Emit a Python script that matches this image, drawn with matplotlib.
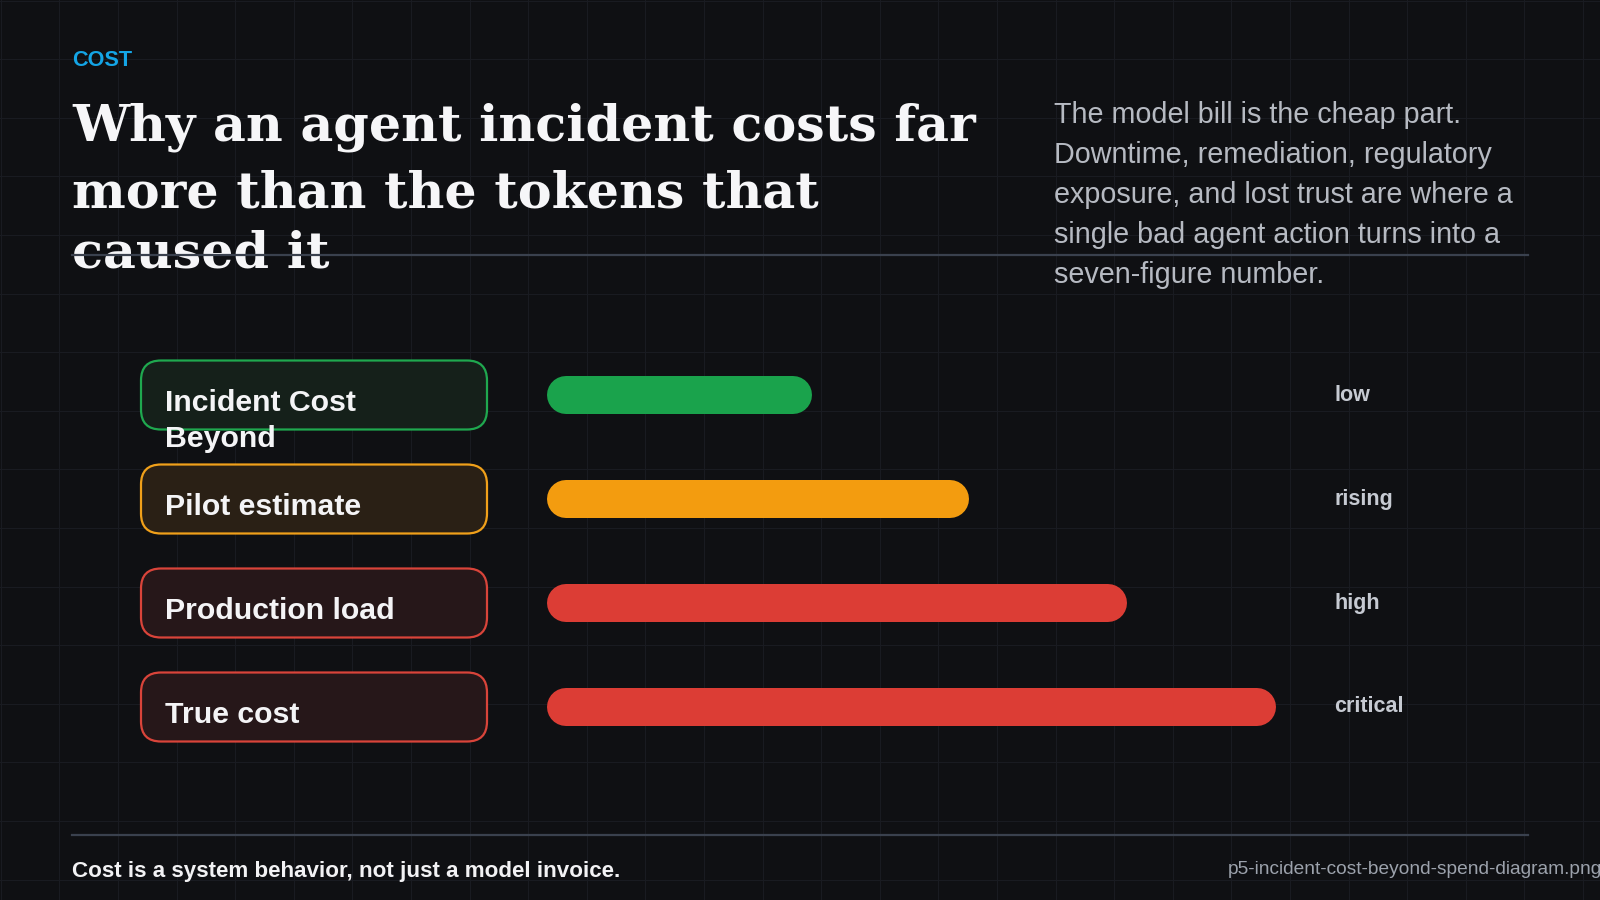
import numpy as np
import matplotlib
matplotlib.use("Agg")
import matplotlib.pyplot as plt
from matplotlib.patches import FancyBboxPatch

plt.rcParams['font.family'] = ['Liberation Sans', 'DejaVu Sans']

# data
label_lines = [["Incident Cost", "Beyond"], ["Pilot estimate"], ["Production load"], ["True cost"]]
values = [36.3, 57.9, 79.5, 100.0]
levels = ["low", "rising", "high", "critical"]
bar_colors = ["#1aa34c", "#f39c0f", "#dc3d35", "#dc3d35"]
box_edges = ["#1fa84f", "#f0a01a", "#d9443a", "#d9443a"]
box_fills = ["#15201a", "#2a2015", "#261719", "#261719"]

title_lines = ["Why an agent incident costs far", "more than the tokens that", "caused it"]
sub_lines = ["The model bill is the cheap part.",
             "Downtime, remediation, regulatory",
             "exposure, and lost trust are where a",
             "single bad agent action turns into a",
             "seven-figure number."]
kicker = "COST"
footer = "Cost is a system behavior, not just a model invoice."
fname = "p5-incident-cost-beyond-spend-diagram.png"

W, H = 1600, 900
fig = plt.figure(figsize=(16, 9), dpi=100)
fig.patch.set_facecolor('#0f1013')

bg = fig.add_axes([0, 0, 1, 1])
bg.set_xlim(0, W)
bg.set_ylim(H, 0)
bg.axis('off')

# faint background grid
for g in np.arange(0.7, W, 58.6):
    bg.axvline(g, color='#191b21', lw=0.75, zorder=0)
for g in np.arange(0.5, H, 58.6):
    bg.axhline(g, color='#191b21', lw=0.75, zorder=0)

# header
bg.text(72, 66, kicker, color='#14a5e6', fontsize=15.6, weight='bold', va='baseline')
for k, line in enumerate(title_lines):
    bg.text(72, [140, 208, 267][k], line, color='#f6f6f8', fontsize=36.5,
            family='DejaVu Serif', weight='bold', va='baseline', zorder=3)
for k, line in enumerate(sub_lines):
    bg.text(1054, 122.7 + 40 * k, line, color='#b6bac2', fontsize=20.7, va='baseline')

bg.plot([72, 1528], [255, 255], color='#3a414e', lw=1.6, zorder=5)
bg.plot([72, 1528], [835, 835], color='#3a414e', lw=1.6, zorder=5)

# bars
ax = fig.add_axes([547 / W, 1 - 759 / H, 729 / W, 416 / H])
ax.set_xlim(0, 100)
ax.set_ylim(len(values) - 0.5, -0.5)
ax.axis('off')

bar_px = 38
r = bar_px / 2 / 729 * 100
for i, v in enumerate(values):
    ax.plot([r, v - r], [i, i], color=bar_colors[i], lw=bar_px * 0.72,
            solid_capstyle='round', zorder=3)

# row boxes, labels and levels follow the bar rows
for i in range(len(values)):
    yc = H - ax.transData.transform((0, i))[1]
    bg.add_patch(FancyBboxPatch((141, yc - 34.5), 346, 69,
                                boxstyle='round,pad=0,rounding_size=20',
                                fc=box_fills[i], ec=box_edges[i], lw=1.6, zorder=2))
    for k, line in enumerate(label_lines[i]):
        bg.text(165, yc + 16 + 35.7 * k, line, color='#f4f4f6', fontsize=21.8,
                weight='bold', va='baseline', zorder=4)
    bg.text(1334, yc + 5.5, levels[i], color='#c6cad2', fontsize=15.5,
            weight='bold', va='baseline', zorder=4)

# footer
bg.text(72, 876.5, footer, color='#f2f2f4', fontsize=16.1, weight='bold', va='baseline')
bg.text(1228, 874, fname, color='#9ca2ac', fontsize=13.8, va='baseline')

fig.savefig('out.png', dpi=100, facecolor=fig.get_facecolor())
